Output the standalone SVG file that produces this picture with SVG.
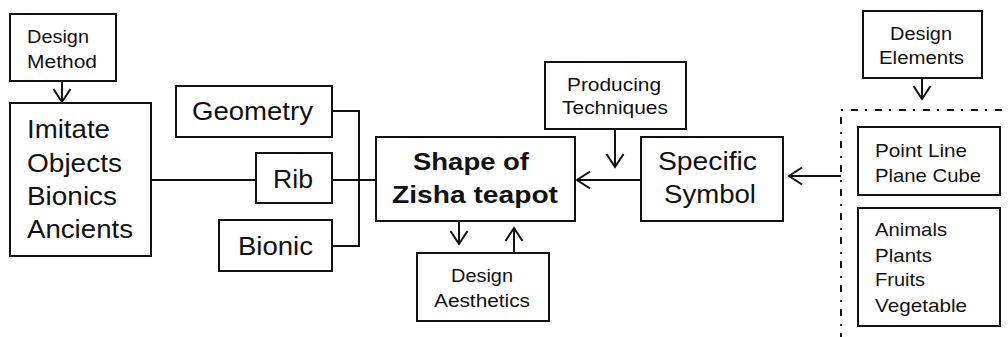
<svg xmlns="http://www.w3.org/2000/svg" width="1008" height="337" viewBox="0 0 1008 337">
  <style>
    .box { fill: #fff; stroke: #111; stroke-width: 2; }
    .wire { fill: none; stroke: #111; stroke-width: 2; }
    .frame { fill: none; stroke: #111; stroke-width: 2; stroke-dasharray: 7 7 2 8; }
    text { font-family: "Liberation Sans", Arial, Helvetica, sans-serif; fill: #111; }
    .s { font-size: 17.5px; }
    .m { font-size: 19px; }
    .l { font-size: 25px; }
    .b { font-size: 24px; font-weight: bold; }
  </style>
  <defs>
    <marker id="arrow" markerUnits="userSpaceOnUse" viewBox="-15 -10 17 20" refX="0" refY="0" markerWidth="17" markerHeight="20" orient="auto">
      <path d="M-13,-8.5 L0,0 L-13,8.5" fill="none" stroke="#111" stroke-width="2"/>
    </marker>
  </defs>

  <!-- connectors -->
  <g id="connectors">
    <path class="wire" d="M62,81 V102" marker-end="url(#arrow)"/>
    <path class="wire" d="M151,180 H256"/>
    <path class="wire" d="M332,180 H376"/>
    <path class="wire" d="M332,111 H359 V246 H332"/>
    <path class="wire" d="M641,180 H577" marker-end="url(#arrow)"/>
    <path class="wire" d="M615,129 V167" marker-end="url(#arrow)"/>
    <path class="wire" d="M459,221 V244" marker-end="url(#arrow)"/>
    <path class="wire" d="M514,253 V228" marker-end="url(#arrow)"/>
    <path class="wire" d="M922,78 V99" marker-end="url(#arrow)"/>
    <path class="wire" d="M841,176 H789" marker-end="url(#arrow)"/>
  </g>

  <g id="design-method">
    <rect class="box" x="10" y="14" width="106" height="67"/>
    <text class="s" x="27" y="43" textLength="62" lengthAdjust="spacingAndGlyphs">Design</text>
    <text class="s" x="27" y="68" textLength="70" lengthAdjust="spacingAndGlyphs">Method</text>
  </g>

  <g id="imitate">
    <rect class="box" x="10" y="103" width="141" height="153"/>
    <text class="l" x="27" y="138" textLength="83" lengthAdjust="spacingAndGlyphs">Imitate</text>
    <text class="l" x="27" y="172" textLength="95" lengthAdjust="spacingAndGlyphs">Objects</text>
    <text class="l" x="27" y="205" textLength="90" lengthAdjust="spacingAndGlyphs">Bionics</text>
    <text class="l" x="27" y="238" textLength="106" lengthAdjust="spacingAndGlyphs">Ancients</text>
  </g>

  <g id="geometry">
    <rect class="box" x="176" y="86" width="156" height="51"/>
    <text class="l" x="192" y="120" textLength="121" lengthAdjust="spacingAndGlyphs">Geometry</text>
  </g>

  <g id="rib">
    <rect class="box" x="256" y="153" width="76" height="50"/>
    <text class="l" x="273" y="188" textLength="40" lengthAdjust="spacingAndGlyphs">Rib</text>
  </g>

  <g id="bionic">
    <rect class="box" x="219" y="220" width="113" height="51"/>
    <text class="l" x="238" y="255" textLength="75" lengthAdjust="spacingAndGlyphs">Bionic</text>
  </g>

  <g id="shape">
    <rect class="box" x="376" y="137" width="199" height="84"/>
    <text class="b" x="413" y="170" textLength="116" lengthAdjust="spacingAndGlyphs">Shape of</text>
    <text class="b" x="392" y="203" textLength="166" lengthAdjust="spacingAndGlyphs">Zisha teapot</text>
  </g>

  <g id="producing">
    <rect class="box" x="545" y="62" width="141" height="67"/>
    <text class="s" x="567" y="91" textLength="94" lengthAdjust="spacingAndGlyphs">Producing</text>
    <text class="s" x="562" y="114" textLength="106" lengthAdjust="spacingAndGlyphs">Techniques</text>
  </g>

  <g id="symbol">
    <rect class="box" x="641" y="137" width="142" height="84"/>
    <text class="l" x="658" y="170" textLength="99" lengthAdjust="spacingAndGlyphs">Specific</text>
    <text class="l" x="664" y="203" textLength="92" lengthAdjust="spacingAndGlyphs">Symbol</text>
  </g>

  <g id="aesthetics">
    <rect class="box" x="417" y="253" width="132" height="68"/>
    <text class="s" x="451" y="282" textLength="62" lengthAdjust="spacingAndGlyphs">Design</text>
    <text class="s" x="434" y="307" textLength="96" lengthAdjust="spacingAndGlyphs">Aesthetics</text>
  </g>

  <g id="elements">
    <rect class="box" x="863" y="11" width="119" height="67"/>
    <text class="s" x="890" y="40" textLength="62" lengthAdjust="spacingAndGlyphs">Design</text>
    <text class="s" x="879" y="64" textLength="85" lengthAdjust="spacingAndGlyphs">Elements</text>
  </g>

  <g id="element-group">
    <path class="frame" d="M841,340 V110 H1010"/>
  </g>

  <g id="geometric">
    <rect class="box" x="858" y="127" width="142" height="68"/>
    <text class="m" x="875" y="157" textLength="92" lengthAdjust="spacingAndGlyphs">Point Line</text>
    <text class="m" x="875" y="182" textLength="106" lengthAdjust="spacingAndGlyphs">Plane Cube</text>
  </g>

  <g id="natural">
    <rect class="box" x="858" y="208" width="142" height="118"/>
    <text class="m" x="875" y="236" textLength="72" lengthAdjust="spacingAndGlyphs">Animals</text>
    <text class="m" x="875" y="262" textLength="57" lengthAdjust="spacingAndGlyphs">Plants</text>
    <text class="m" x="875" y="286" textLength="50" lengthAdjust="spacingAndGlyphs">Fruits</text>
    <text class="m" x="875" y="312" textLength="92" lengthAdjust="spacingAndGlyphs">Vegetable</text>
  </g>
</svg>
